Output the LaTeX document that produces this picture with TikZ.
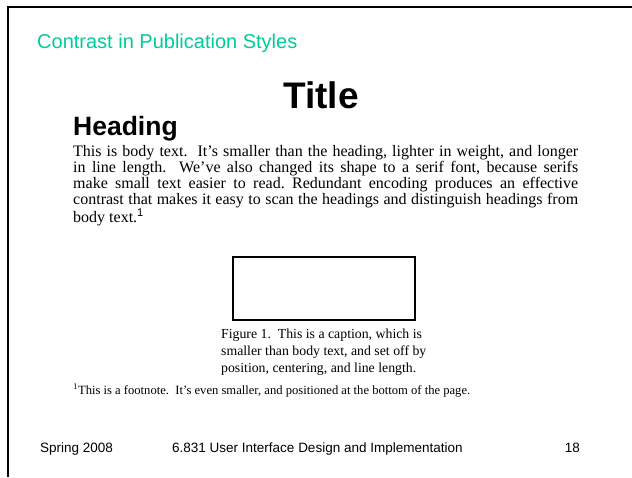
\documentclass[tikz,border=0pt]{standalone}
\usepackage{fontspec}
\setmainfont{Liberation Serif}
\setsansfont{Liberation Sans}
\usetikzlibrary{positioning}
\definecolor{slideTeal}{RGB}{0,204,153}
\definecolor{frameColor}{RGB}{0,0,0}
\frenchspacing

\begin{document}
\begin{tikzpicture}[x=1pt,y=-1pt]
  	\tikzstyle{sans} = [inner sep=0pt,font=\sffamily]
  	\tikzstyle{serif} = [inner sep=0pt,font=\rmfamily]
  	\tikzstyle{footer} = [sans,anchor=base west,font=\sffamily\fontsize{13.5}{16}\selectfont]
  	\tikzset{figbox/.style={draw,line width=1.5pt,minimum width=182pt,minimum height=63pt,inner sep=0pt}}

	  \useasboundingbox (0,0) rectangle (632,477);
	  \draw [frameColor,line width=2pt] (8,477) -- (8,7) -- (632,7);

	  \node [sans,anchor=base west,slideTeal,font=\sffamily\fontsize{20}{24}\selectfont] (slidetitle) at (37,48) {Contrast in Publication Styles};
	  \node [sans,anchor=base,font=\sffamily\bfseries\fontsize{37}{40}\selectfont] (title) at (321,108) {Title};
	  \node [sans,anchor=base west,font=\sffamily\bfseries\fontsize{26.5}{29}\selectfont] (heading) at (73,135) {Heading};

	  \node [serif,anchor=north west,text width=505pt,align=justify,font=\rmfamily\fontsize{16}{16}\selectfont] (body) at (73,145)
	    {This is body text.\ \ It’s smaller than the heading, lighter in weight, and longer\linebreak
	     in line length.\ \ We’ve also changed its shape to a serif font, because serifs\linebreak
	     make small text easier to read. Redundant encoding produces an effective\linebreak
	     contrast that makes it easy to scan the headings and distinguish headings from\linebreak
	     body text.\textsuperscript{\sffamily 1}};

	  \node [figbox,anchor=north west] (figure) at (232,256) {};
	  \node [serif,anchor=north,align=left,font=\rmfamily\fontsize{13.8}{17}\selectfont,below=8pt of figure] (caption)
	    {Figure 1.\ \ This is a caption, which is\\
	     smaller than body text, and set off by\\
	     position, centering, and line length.};

	  \node [serif,anchor=base west,font=\rmfamily\fontsize{12.6}{14}\selectfont] (footnote) at (73,394)
	    {\textsuperscript{1}This is a footnote.\ \ It’s even smaller, and positioned at the bottom of the page.};

	  \node [footer] (term) at (40,452) {Spring 2008};
	  \node [footer] (course) at (172,452) {6.831 User Interface Design and Implementation};
	  \node [footer,anchor=base east] (pagenum) at (580,452) {18};
\end{tikzpicture}
\end{document}
